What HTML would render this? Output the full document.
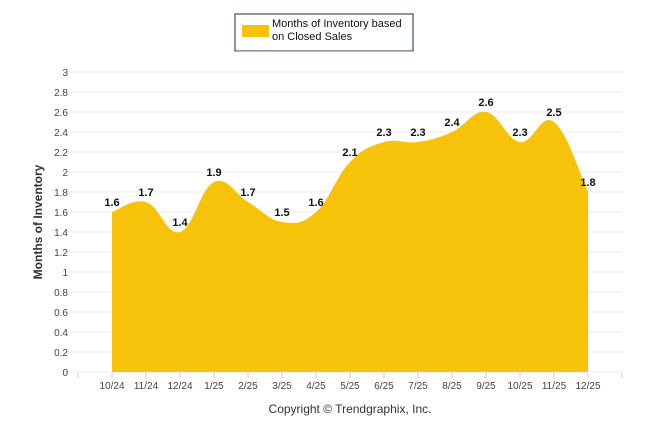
<!DOCTYPE html>
<html><head><meta charset="utf-8"><style>
body{margin:0;background:#fff;width:646px;height:434px;overflow:hidden;font-family:"Liberation Sans",Arial,sans-serif}
</style></head><body>
<svg id="c" width="646" height="434" xmlns="http://www.w3.org/2000/svg" font-family="Liberation Sans, Arial, sans-serif">
<g>
<rect x="235" y="14" width="178" height="37" fill="#fff" stroke="#1f2a44" stroke-width="1"/>
<line x1="236" y1="51.5" x2="414" y2="51.5" stroke="#bbb"/>
<rect x="242" y="25" width="27" height="12" fill="#f7c30a"/>
<text x="272" y="27" font-size="11" fill="#111">Months of Inventory based</text>
<text x="272" y="40" font-size="11" fill="#111">on Closed Sales</text>
</g>
<g id="grid"></g>
<path id="area" fill="#f7c30a"/>
<g id="labels"></g>
<text x="0" y="0" transform="translate(42,222) rotate(-90)" text-anchor="middle" font-size="12" font-weight="bold" fill="#333">Months of Inventory</text>
<text x="350" y="413" text-anchor="middle" font-size="12" fill="#333">Copyright © Trendgraphix, Inc.</text>
</svg>
<script>
const categories=["10/24","11/24","12/24","1/25","2/25","3/25","4/25","5/25","6/25","7/25","8/25","9/25","10/25","11/25","12/25"];
const values=[1.6,1.7,1.4,1.9,1.7,1.5,1.6,2.1,2.3,2.3,2.4,2.6,2.3,2.5,1.8];
const yTicks=[0,0.2,0.4,0.6,0.8,1,1.2,1.4,1.6,1.8,2,2.2,2.4,2.6,2.8,3];
const NS="http://www.w3.org/2000/svg";
const y=v=>372-v*100;
const x=i=>78+34*(i+1);
const g=document.getElementById('grid');
function mk(t,a,p){const e=document.createElementNS(NS,t);for(const k in a)e.setAttribute(k,a[k]);p.appendChild(e);return e;}
yTicks.forEach(v=>{
 const l=mk('line',{x1:62,x2:623,y1:y(v),y2:y(v),stroke:'#ebebeb'},g);
 
 
 const t=mk('text',{x:68,y:y(v)+4,'text-anchor':'end','font-size':10,fill:'#444'},g);
 t.textContent=String(v);
 
 
});
for(let k=0;k<=16;k++){const tk=mk('line',{x1:78+34*k,x2:78+34*k,y1:373,y2:378,stroke:'#ccc'},g);
 
 }
categories.forEach((c,i)=>{
 const t=mk('text',{x:x(i),y:389,'text-anchor':'middle','font-size':10,fill:'#444'},g);
 t.textContent=c;
 
 
});
const P=values.map((v,i)=>[x(i),y(v)]);
let d=`M${P[0][0]},372 L${P[0][0]},${P[0][1]}`;
for(let i=0;i<P.length-1;i++){
 const p0=P[Math.max(i-1,0)],p1=P[i],p2=P[i+1],p3=P[Math.min(i+2,P.length-1)];
 const s=0.2;
 const c1=[p1[0]+(p2[0]-p0[0])*s,p1[1]+(p2[1]-p0[1])*s];
 const c2=[p2[0]-(p3[0]-p1[0])*s,p2[1]-(p3[1]-p1[1])*s];
 d+=` C${c1[0]},${c1[1]} ${c2[0]},${c2[1]} ${p2[0]},${p2[1]}`;
}
d+=` L${P[P.length-1][0]},372 Z`;
document.getElementById('area').setAttribute('d',d);
const L=document.getElementById('labels');
values.forEach((v,i)=>{
 const t=mk('text',{x:x(i),y:y(v)-6,'text-anchor':'middle','font-size':11,'font-weight':'bold',fill:'#111'},L);
 t.textContent=v.toFixed(1);
 
 
});
</script>
</body></html>
